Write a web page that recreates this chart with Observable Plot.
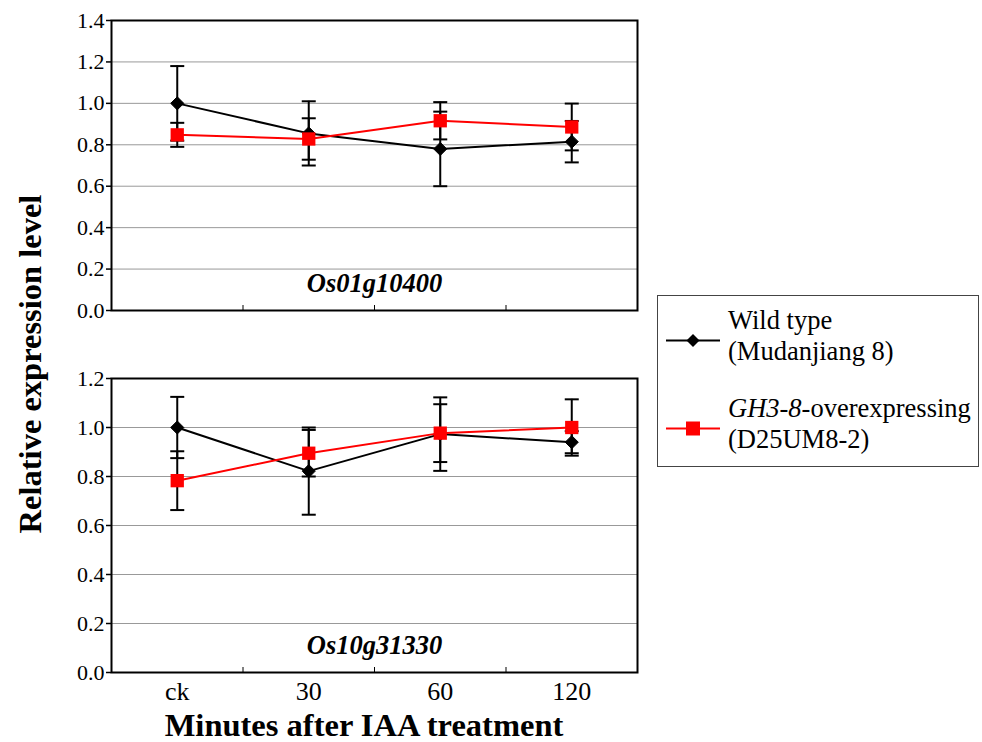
<!DOCTYPE html>
<html>
<head>
<meta charset="utf-8">
<script src="https://cdn.jsdelivr.net/npm/d3@7"></script>
<script src="https://cdn.jsdelivr.net/npm/@observablehq/plot@0.6"></script>
<style>
  html, body { margin: 0; padding: 0; background: #fff; }
  #root { position: relative; width: 982px; height: 742px; font-family: "Liberation Serif", "Times New Roman", serif; }
  .abs { position: absolute; }
  #ylab { left: 30px; top: 364px; transform: translate(-50%, -50%) rotate(-90deg); font-weight: bold; font-size: 32.5px; white-space: nowrap; }
  #xlab { left: 364px; top: 725px; transform: translate(-50%, -50%); font-weight: bold; font-size: 32.5px; white-space: nowrap; }
  #legend { left: 657px; top: 295px; width: 322px; height: 172px; border: 1px solid #444; box-sizing: border-box; font-size: 26.5px; }
  .entry { position: absolute; left: 8px; }
  .entry svg { position: absolute; left: 0; }
  .entry .txt { position: absolute; left: 62px; line-height: 31px; white-space: nowrap; }
</style>
</head>
<body>
<div id="root">
  <div id="top" class="abs" style="left:0;top:0"></div>
  <div id="bottom" class="abs" style="left:0;top:358px"></div>
  <div id="ylab" class="abs"></div>
  <div id="xlab" class="abs"></div>
  <div id="legend" class="abs"></div>
</div>
<script>
// ---- data ----
const categories = ["ck", "30", "60", "120"];
const genes = ["Os01g10400", "Os10g31330"];
const seriesNames = ["Wild type", "GH3-8-overexpressing"];
const seriesSub = ["(Mudanjiang 8)", "(D25UM8-2)"];

// Os01g10400
const wt1 = [1.00, 0.855, 0.78, 0.815];
const wt1Err = [0.18, 0.155, 0.18, 0.10];
const ox1 = [0.848, 0.828, 0.916, 0.886];
const ox1Err = [0.058, 0.10, 0.09, 0.113];
// Os10g31330
const wt2 = [1.00, 0.822, 0.973, 0.94];
const wt2Err = [0.125, 0.178, 0.15, 0.045];
const ox2 = [0.783, 0.895, 0.977, 1.00];
const ox2Err = [0.12, 0.095, 0.118, 0.115];

const yTicksTop = [0, 0.2, 0.4, 0.6, 0.8, 1.0, 1.2, 1.4];
const yTicksBottom = [0, 0.2, 0.4, 0.6, 0.8, 1.0, 1.2];

// ---- helpers ----
function rows(vals, errs, series) {
  return vals.map((v, i) => ({cat: categories[i], xi: i + 0.5, v, lo: v - errs[i], hi: v + errs[i], series}));
}
const capSymbol = { draw(ctx) { ctx.moveTo(-7, 0); ctx.lineTo(7, 0); } };
const FONT = "Liberation Serif";

function panel({wt, ox, yMax, yTicks, gene, height, marginBottom, showX}) {
  const all = [...wt, ...ox];
  const inner = d3.range(1, categories.length);
  const tickLen = 5 / (height - 20 - marginBottom) * yMax;
  const marks = [
    Plot.gridY(yTicks, {stroke: "#999", strokeOpacity: 1, strokeWidth: 1}),
    Plot.axisY(yTicks, {tickSize: 5, tickPadding: 2, tickFormat: d3.format(".1f"), fontSize: 22, fontFamily: FONT, label: null, stroke: "#000", strokeWidth: 1.5}),
    Plot.ruleX(inner, {y1: 0, y2: tickLen, stroke: "#000", strokeWidth: 1}),
    // error bars
    Plot.ruleX(all, {x: "xi", y1: "lo", y2: "hi", stroke: "#000", strokeWidth: 2}),
    Plot.dot(all, {x: "xi", y: "hi", symbol: capSymbol, stroke: "#000", strokeWidth: 2, fill: "none"}),
    Plot.dot(all, {x: "xi", y: "lo", symbol: capSymbol, stroke: "#000", strokeWidth: 2, fill: "none"}),
    // wild type
    Plot.line(wt, {x: "xi", y: "v", stroke: "#000", strokeWidth: 2}),
    Plot.dot(wt, {x: "xi", y: "v", symbol: "diamond2", r: 5.9, fill: "#000", stroke: "#000", strokeWidth: 1}),
    // overexpressing
    Plot.line(ox, {x: "xi", y: "v", stroke: "#ff0000", strokeWidth: 2}),
    Plot.dot(ox, {x: "xi", y: "v", symbol: "square", r: 7.5, fill: "#ff0000", stroke: "none"}),
    Plot.text([gene], {frameAnchor: "bottom", dy: -27, lineAnchor: "middle", text: d => d, fontSize: 26.5, fontFamily: FONT, fontWeight: "bold", fontStyle: "italic", fill: "#000"}),
    Plot.frame({stroke: "#000", strokeWidth: 2})
  ];
  if (showX) {
    marks.push(Plot.axisX(categories.map((c, i) => i + 0.5), {tickSize: 0, tickPadding: 9, tickFormat: d => categories[Math.floor(d)], fontSize: 26, fontFamily: FONT, label: null}));
  }
  return Plot.plot({
    width: 650,
    height,
    marginTop: 20,
    marginBottom,
    marginLeft: 111,
    marginRight: 13,
    style: {fontFamily: FONT, color: "#000", background: "transparent"},
    x: {type: "linear", domain: [0, categories.length], axis: null},
    y: {domain: [0, yMax], axis: null},
    marks
  });
}

document.getElementById("top").appendChild(panel({
  wt: rows(wt1, wt1Err, seriesNames[0]), ox: rows(ox1, ox1Err, seriesNames[1]),
  yMax: 1.4, yTicks: yTicksTop, gene: genes[0], height: 330, marginBottom: 20, showX: false
}));
document.getElementById("bottom").appendChild(panel({
  wt: rows(wt2, wt2Err, seriesNames[0]), ox: rows(ox2, ox2Err, seriesNames[1]),
  yMax: 1.2, yTicks: yTicksBottom, gene: genes[1], height: 354, marginBottom: 40, showX: true
}));

document.getElementById("ylab").textContent = "Relative expression level";
document.getElementById("xlab").textContent = "Minutes after IAA treatment";

// legend
const legend = document.getElementById("legend");
function legendEntry(top, color, symbol, titleHTML, sub) {
  const e = document.createElement("div");
  e.className = "entry";
  e.style.top = top + "px";
  const sym = symbol === "diamond"
    ? `<path d="M27,38 L33.5,44.5 L27,51 L20.5,44.5 Z" fill="${color}"/>`
    : `<rect x="20" y="37.5" width="14" height="14" fill="${color}"/>`;
  e.innerHTML = `<svg width="56" height="90" style="top:0"><line x1="0" x2="54" y1="44.5" y2="44.5" stroke="${color}" stroke-width="2"/>${sym}</svg>
    <div class="txt" style="top:9px">${titleHTML}</div><div class="txt" style="top:40px">${sub}</div>`;
  legend.appendChild(e);
}
legendEntry(0, "#000", "diamond", seriesNames[0], seriesSub[0]);
legendEntry(88, "#ff0000", "square", seriesNames[1].replace("GH3-8", "<i>GH3-8</i>"), seriesSub[1]);
</script>
</body>
</html>
